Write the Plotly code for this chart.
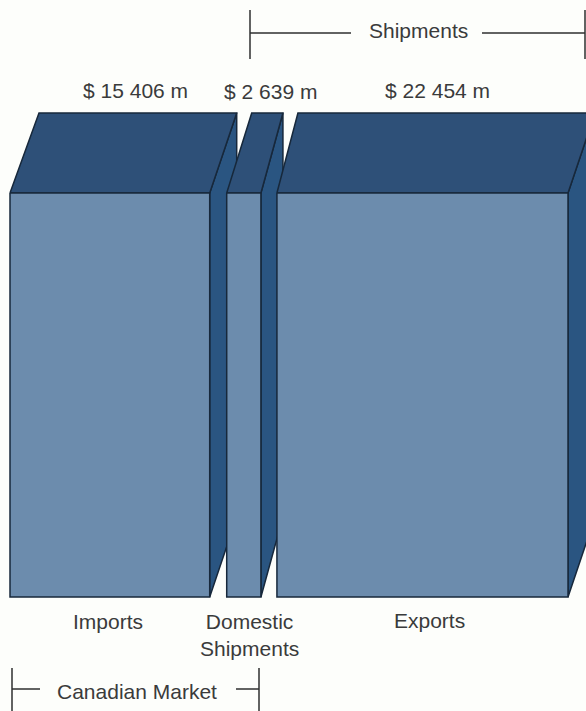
import plotly.graph_objects as go

# Values in millions of dollars
categories = ["Imports", "Domestic<br>Shipments", "Exports"]
values_musd = [15406, 2639, 22454]
value_labels = ["$ 15 406 m", "$ 2 639 m", "$ 22 454 m"]

WIDTH, HEIGHT = 586, 711
FONT = "Liberation Sans"
INK = "#3a3b3b"
EDGE = "#17283b"
FRONT = "#6c8cad"
TOP = "#2e5078"
SIDE = "#2a5581"

# Horizontal scale shared by every block, so front widths follow the values
MUSD_PER_PX = 77.14
LEFT_PX = 10
GAPS_PX = [17, 16]
FRONT_TOP, FRONT_BOTTOM, BACK_TOP = 193, 597, 113
# Oblique depth of each block's left and right edges, in pixels
DEPTH_LEFT = [29, 25, 21]
DEPTH_RIGHT = [27, 22, 27]

fig = go.Figure()


def face(xs, ys, color):
    fig.add_trace(go.Scatter(
        x=xs, y=ys, mode="lines", fill="toself", fillcolor=color,
        line=dict(color=EDGE, width=1.5), hoverinfo="skip", showlegend=False,
    ))


start = LEFT_PX * MUSD_PER_PX
for i, value in enumerate(values_musd):
    end = start + value
    dl = DEPTH_LEFT[i] * MUSD_PER_PX
    dr = DEPTH_RIGHT[i] * MUSD_PER_PX
    rise = FRONT_TOP - BACK_TOP
    face([end, end + dr, end + dr, end, end],
         [FRONT_TOP, BACK_TOP, FRONT_BOTTOM - rise, FRONT_BOTTOM, FRONT_TOP], SIDE)
    face([start, start + dl, end + dr, end, start],
         [FRONT_TOP, BACK_TOP, BACK_TOP, FRONT_TOP, FRONT_TOP], TOP)
    face([start, end, end, start, start],
         [FRONT_TOP, FRONT_TOP, FRONT_BOTTOM, FRONT_BOTTOM, FRONT_TOP], FRONT)
    if i < len(GAPS_PX):
        start = end + GAPS_PX[i] * MUSD_PER_PX


def label(text, px, py, size=21):
    fig.add_annotation(
        x=px / WIDTH, y=1 - py / HEIGHT, xref="paper", yref="paper",
        text=text, showarrow=False, xanchor="center", yanchor="middle",
        font=dict(family=FONT, size=size, color=INK), align="center",
    )


def rule(x0, y0, x1, y1):
    fig.add_shape(
        type="line", xref="paper", yref="paper",
        x0=x0 / WIDTH, x1=x1 / WIDTH, y0=1 - y0 / HEIGHT, y1=1 - y1 / HEIGHT,
        line=dict(color="#2e2f2f", width=1.5),
    )


for text, px, py in zip(value_labels, [135, 270, 437], [90, 91, 90]):
    label(text, px, py)
for text, px, py in zip(categories, [108, 249, 429], [621, 635, 620]):
    label(text, px, py)

# "Shipments" bracket across the top
label("Shipments", 418, 30)
rule(250, 10, 250, 59)
rule(250, 33, 351, 33)
rule(482, 33, 585, 33)
rule(585, 10, 585, 59)

# "Canadian Market" bracket along the bottom
label("Canadian Market", 137, 691)
rule(12, 668, 12, 711)
rule(12, 689, 40, 689)
rule(236, 689, 259, 689)
rule(259, 668, 259, 711)

fig.update_layout(
    width=WIDTH, height=HEIGHT,
    margin=dict(l=0, r=0, t=0, b=0),
    paper_bgcolor="#fdfefb", plot_bgcolor="#fdfefb",
    showlegend=False,
    xaxis=dict(range=[0, WIDTH * MUSD_PER_PX], visible=False, fixedrange=True),
    yaxis=dict(range=[HEIGHT, 0], visible=False, fixedrange=True),
)

fig.write_html("out.html", config={"displayModeBar": False})
